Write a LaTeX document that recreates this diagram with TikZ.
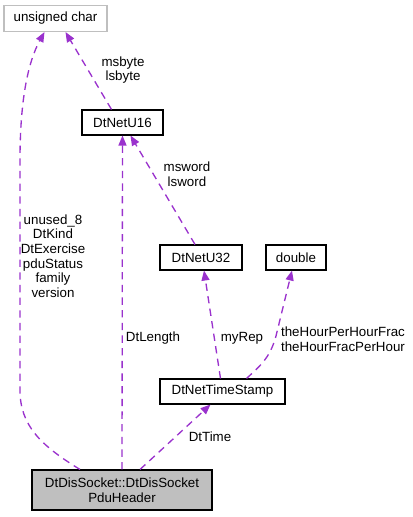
\documentclass[tikz,border=0pt]{standalone}
\usepackage{fontspec}
\setmainfont{Liberation Sans}
\usetikzlibrary{arrows.meta}
\definecolor{edgec}{HTML}{9A32CD}
\definecolor{boxgray}{HTML}{BFBFBF}
\begin{document}
\begin{tikzpicture}[x=0.75pt,y=-0.75pt,
  font=\fontsize{10pt}{11pt}\selectfont,
  cls/.style={draw=black,line width=0.8pt,rectangle,inner sep=0pt,align=center,fill=white},
  lbl/.style={align=center,inner sep=0pt},
  use/.style={draw=edgec,line width=1pt,dash pattern=on 5.5pt off 4pt,
    -{Triangle[length=7.5pt,width=6pt,fill=edgec]}}]
\useasboundingbox (0,0) rectangle (412,517);
\node[cls,draw=boxgray,minimum width={103*0.75pt},minimum height={26*0.75pt}] (uc) at (55.5,18.5) {unsigned char};
\node[cls,minimum width={81*0.75pt},minimum height={25*0.75pt}] (u16) at (122.5,122.5) {DtNetU16};
\node[cls,minimum width={82*0.75pt},minimum height={25*0.75pt}] (u32) at (201,257.5) {DtNetU32};
\node[cls,minimum width={60*0.75pt},minimum height={25*0.75pt}] (dbl) at (296,257.5) {double};
\node[cls,minimum width={125*0.75pt},minimum height={25*0.75pt}] (ts) at (222.5,391.5) {DtNetTimeStamp};
\node[cls,fill=boxgray,minimum width={180*0.75pt},minimum height={40*0.75pt}] (dis) at (122,490) {DtDisSocket::DtDisSocket\\PduHeader};

\draw[use] ([shift={(-42,0)}]dis.north) .. controls (40,445) and (20,425) .. (20,390)
  -- (20,160) .. controls (20,100) and (28,62) .. ([shift={(-11,0)}]uc.south);
\draw[use] ([shift={(-11,0)}]u16.north) -- ([shift={(10,0)}]uc.south);
\draw[use] (dis.north) -- (u16.south);
\draw[use] ([shift={(-6,0)}]u32.north) -- ([shift={(8,0)}]u16.south);
\draw[use] ([shift={(-2,0)}]ts.north) -- ([shift={(3,0)}]u32.south);
\draw[use] ([shift={(24,0)}]ts.north) .. controls (260,366) and (270,358) .. (276,336) -- ([shift={(-4,0)}]dbl.south);
\draw[use] ([shift={(18,0)}]dis.north) -- ([shift={(-12,0)}]ts.south);

\node[lbl] (l1) at (53,256) {unused\_8\\DtKind\\DtExercise\\pduStatus\\family\\version};
\node[lbl] (l2) at (123,70) {msbyte\\lsbyte};
\node[lbl] (l3) at (153,338) {DtLength};
\node[lbl] (l4) at (187,174) {msword\\lsword};
\node[lbl] (l5) at (242,338) {myRep};
\node[lbl] (l6) at (343,339) {theHourPerHourFrac\\theHourFracPerHour};
\node[lbl] (l7) at (210,437) {DtTime};
\end{tikzpicture}
\end{document}
